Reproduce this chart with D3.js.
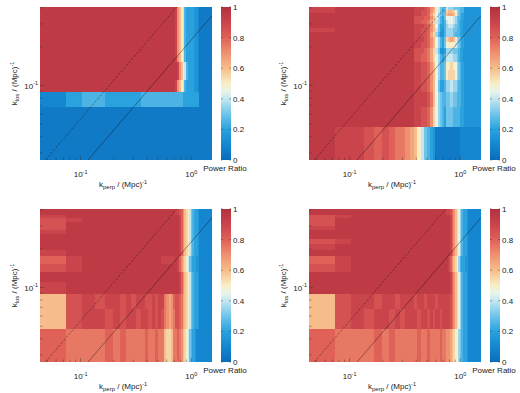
<!DOCTYPE html>
<html>
<head>
<meta charset="utf-8">
<script src="https://cdn.jsdelivr.net/npm/d3@7"></script>
<style>
  body { margin: 0; background: #fff; }
  svg text { font-family: "Liberation Sans", Arial, Helvetica, sans-serif; fill: #1a1a1a; }
</style>
</head>
<body>
<div id="chart"></div>
<script>
// k_perp / k_los bin edges, Mpc^-1
const kPerpEdges = [0.043, 0.0735, 0.104, 0.1345, 0.165, 0.1955, 0.226, 0.2565, 0.287, 0.3175,
  0.348, 0.3785, 0.409, 0.4395, 0.47, 0.5005, 0.531, 0.5615, 0.592, 0.6225,
  0.653, 0.6835, 0.714, 0.7445, 0.775, 0.8055, 0.836, 0.8665, 0.897, 0.9275,
  0.958, 0.9885, 1.019, 1.0495, 1.08, 1.1105, 1.141, 1.1715, 1.202, 1.2325,
  1.263, 1.2935, 1.324, 1.3545, 1.385, 1.4155, 1.446, 1.4765, 1.507, 1.5375];
const kLosEdges = [0.0264, 0.0475, 0.0686, 0.0897, 0.1108, 0.1319, 0.153, 0.1741, 0.1952, 0.2163,
  0.2374, 0.2585, 0.2796, 0.3007, 0.3218, 0.3429, 0.364, 0.3851, 0.4062];

// power ratio per cell: one letter per k_perp bin, a = 0.00, b = 0.05 ... u = 1.00
// rows run from the top k_los bin down to the bottom one (spaces only group by 10)
const levelCodes = "abcdefghijklmnopqrstu";

const ratioTopLeft = [
  "tttttttttt tttttttttt ttsomkifee eeedddcbbb bbbbbbbbb",
  "tttttttttt tttttttttt ttsomkifee eeedddcbbb bbbbbbbbb",
  "tttttttttt tttttttttt ttsomkifee eeedddcbbb bbbbbbbbb",
  "tttttttttt tttttttttt ttsomkifee eeedddcbbb bbbbbbbbb",
  "tttttttttt tttttttttt ttsomkifee eeedddcbbb bbbbbbbbb",
  "tttttttttt tttttttttt ttsomkifee eeedddcbbb bbbbbbbbb",
  "tttttttttt tttttttttt ttsomkifee eeedddcbbb bbbbbbbbb",
  "tttttttttt tttttttttt ttsomkifee eeedddcbbb bbbbbbbbb",
  "tttttttttt tttttttttt ttsomkifee eeedddcbbb bbbbbbbbb",
  "tttttttttt tttttttttt ttsomkifee eeedddcbbb bbbbbbbbb",
  "tttttttttt tttttttttt ttsomkifee eeedddcbbb bbbbbbbbb",
  "tttttttttt tttttttttt ttsomkifee eeedddcbbb bbbbbbbbb",
  "tttttttttt tttttttttt tttsomkife eeedddcbbb bbbbbbbbb",
  "tttttttttt tttttttttt tttsomkife eeedddcbbb bbbbbbbbb",
  "tttttttttt tttttttttt ttsomkifee eeedddcbbb bbbbbbbbb",
  "ceffeeeeee ffffffffff ffffffeeee eeeeeeebbb bbbbbbbbb",
  "bbbbbbbbbb bbbbbbbbbb bbbbbbbbbb bbbbbbbbbb bbbbbbbbb",
  "bbbbbbbbbb bbbbbbbbbb bbbbbbbbbb bbbbbbbbbb bbbbbbbbb"
];

const ratioTopRight = [
  "sttttttttt tsssrqonki gfgihhhggg gfffdddddd ddddddddd",
  "sttttttttt tssrrqomki gfflmmmljh gfffdddddd ddddddddd",
  "tttttttttt tssrrqnljh gfgmnnnmkh gfeedddddd ddddddddd",
  "tttttttttt trrrqqomjh fegjjjjihg ffeedddddd ddddddddd",
  "tttttttttt trrqqpnlih fefijjjihg feeddddddd ddddddddd",
  "tttttttttt tsssrqomjg eefhiiihgg feeddddddd ddddddddd",
  "sttttttttt tssrrqomig edfhhhhggf feeddddddd ddddddddd",
  "tttttttttt tssrrqnlhf ddfhhhhgff feeddddddd ddddddddd",
  "tttttttttt tsssrqomjh feglmnnmkh gfeedddddd ddddddddd",
  "tttttttttt tssrrqomjh fegjkkkjih gfeedddddd ddddddddd",
  "tttttttttt trrrqpnlig ddehhhhggg feeddddddd ddddddddd",
  "tttttttttt trrqqpnljh fefiiiihhg feeddddddd ddddddddd",
  "tttttttttt tssrrqomjh ffgkkllkjh gfeedddddd ddddddddd",
  "tttttttttt tssrrqomjh ffgklllljh gfeedddddd ddddddddd",
  "tttttttttt tssrrqomjg eefhhiihhg ffeedddddd ddddddddd",
  "tttttttttt tssssrpmjh gffgghhggf ffeedddddd ddddddddd",
  "tttttttttt tssrrqoljh gfeggggfff feeedddddd ddddddddd",
  "tssrqrqppo nmkigfedbb bbbbbbbbbb bccccccccc ccccccccc"
];

const ratioBottomLeft = [
  "tttttttttt tttttttttt ttssrqomlk igfeeedccc ccccccccc",
  "tttttttttt tttttttttt ttssrqomlk igfeeedccc ccccccccc",
  "sttttttttt tttttttttt ttttsqomlk igfeeedccc ccccccccc",
  "rstttttttt tttttttttt ttttsqomlk igfeeedccc ccccccccc",
  "rttttttttt tttttttttt ttttsqomlk igfeeedccc ccccccccc",
  "rttttttttt tttttttttt ttttsqomlk igfeeedccc ccccccccc",
  "sttttttttt tttttttttt ttttsqomlk igfeeedccc ccccccccc",
  "tttttttttt tttttttttt ttttsqomlk igfeeedccc ccccccccc",
  "tttttttttt tttttttttt ttttsqomlk igfeeedccc ccccccccc",
  "tttttttttt tttttttttt ttttsqomlk igfeeedccc ccccccccc",
  "sttttttttt tttttttttt ttttsqomlk igfeeedccc ccccccccc",
  "qstttttttt ttttttssss sstsqomlki gfeeeddccc ccccccccc",
  "rstttttttt tttttttttt tttsqomlki gfeeeddccc ccccccccc",
  "tttttttttt tttttttttt ttttsqomlk igfeeedccc ccccccccc",
  "sttttttttt tttttttttt ttttsqomlk igfeeedccc ccccccccc",
  "mrsrssrsrs srrsrsspon oqrrqpnmlk igfeeedccc ccccccccc",
  "mrssrsrssr ssrsrsrpon oprrqpnmlk igfeeedccc ccccccccc",
  "qpppqpqppp pqppqppmll mppqpomlki gfeedccccc ccccccccc"
];

const ratioBottomRight = [
  "tttttttttt tttttttttt tttssrqoml jhfeeedccc ccccccccc",
  "tttttttttt tttttttttt tttssrqoml jhfeeedccc ccccccccc",
  "rstttttttt tttttttttt tttttsqoml jhfeeedccc ccccccccc",
  "rttttttttt tttttttttt tttttsqoml jhfeeedccc ccccccccc",
  "rttttttttt tttttttttt tttttsqoml jhfeeedccc ccccccccc",
  "sttttttttt tttttttttt tttttsqoml jhfeeedccc ccccccccc",
  "tttttttttt tttttttttt tttttsqoml jhfeeedccc ccccccccc",
  "tttttttttt tttttttttt tttttsqoml jhfeeedccc ccccccccc",
  "rstttttttt tttttttttt tttttsqoml jhfeeedccc ccccccccc",
  "sttttttttt tttttttttt tttttsqoml jhfeeedccc ccccccccc",
  "tttttttttt tttttttttt tttttsqoml jhfeeedccc ccccccccc",
  "qstttttttt tttttttttt ttttsqomlj hfeeeddccc ccccccccc",
  "rstttttttt tttttttttt ttttsqomlj hfeeeddccc ccccccccc",
  "tttttttttt tttttttttt tttttsqoml jhfeeedccc ccccccccc",
  "tttttttttt tttttttttt tttttsqoml jhfeeedccc ccccccccc",
  "mrssrssrss srssrsssrs sssssrqoml jhfeeedccc ccccccccc",
  "mrsrssrsrs ssrssrsrss rssssrqoml jhfeeedccc ccccccccc",
  "qpppqpqppp ppqppqpppp qppoonmlkj hgfeeedccc ccccccccc"
];

// k_los = slope * k_perp guide lines
const guideSlopes = [0.55, 0.226];
const guideDashes = ["2.5,1.5", null];

// colour map of the power ratio
const colorStops = [0, 0.1, 0.2, 0.3, 0.4, 0.45, 0.5, 0.6, 0.7, 0.8, 0.9, 1];
const colorHex = ["#0b6cbd", "#1487d0", "#2aa2de", "#6ec4ea", "#c4e7f1", "#e8f4ea",
  "#f8eec6", "#f6bd8a", "#ef9070", "#df6158", "#c9444b", "#b2303f"];

const xMinorTicks = [0.05, 0.06, 0.07, 0.08, 0.09, 0.2, 0.3, 0.4, 0.5, 0.6, 0.7, 0.8, 0.9];
const xMajorTicks = [0.1, 1];
const xMajorExp = ["-1", "0"];
const yMinorTicks = [0.03, 0.04, 0.05, 0.06, 0.07, 0.08, 0.09, 0.2, 0.3, 0.4];
const yMajorTicks = [0.1];
const yMajorExp = ["-1"];
const cbTicks = [0, 0.2, 0.4, 0.6, 0.8, 1];
const cbTickLabels = ["0", "0.2", "0.4", "0.6", "0.8", "1"];

const panels = [
  { col: 0, row: 0, rows: ratioTopLeft },
  { col: 1, row: 0, rows: ratioTopRight },
  { col: 0, row: 1, rows: ratioBottomLeft },
  { col: 1, row: 1, rows: ratioBottomRight }
];

const width = 520, height = 393;
const plotW = 172, plotH = 153;
const originX = 40, originY = 7, stepX = 269, stepY = 202;
const cbX = 181, cbW = 10;

const svg = d3.select('#chart').append('svg')
  .attr('width', width)
  .attr('height', height);

const x = d3.scaleLog().domain(d3.extent(kPerpEdges)).range([0, plotW]);
const y = d3.scaleLog().domain(d3.extent(kLosEdges)).range([plotH, 0]);
const color = d3.scaleLinear().domain(colorStops).range(colorHex).clamp(true);
const cbY = d3.scaleLinear().domain([0, 1]).range([plotH, 0]);

const defs = svg.append('defs');
const grad = defs.append('linearGradient')
  .attr('id', 'cbgrad')
  .attr('x1', 0).attr('x2', 0).attr('y1', 1).attr('y2', 0);
grad.selectAll('stop')
  .data(colorStops)
  .enter()
  .append('stop')
  .attr('offset', d => d)
  .attr('stop-color', d => color(d));
defs.append('clipPath').attr('id', 'plotclip')
  .append('rect').attr('width', plotW).attr('height', plotH);

function decode(rows) {
  const cells = [];
  const nCols = kPerpEdges.length - 1;
  rows.forEach((s, r) => {
    const codes = s.replace(/ /g, '');
    const j = rows.length - 1 - r;
    for (let i = 0; i < nCols; i++) {
      const ch = codes[i] || codes[codes.length - 1];
      cells.push({ i, j, v: levelCodes.indexOf(ch) * 0.05 });
    }
  });
  return cells;
}

function powerLabel(sel, base, exp, size) {
  sel.append('tspan').text(base);
  sel.append('tspan').attr('dy', -3.5).attr('font-size', size * 0.68).text(exp);
}

panels.forEach(p => {
  const g = svg.append('g')
    .attr('transform', `translate(${originX + p.col * stepX},${originY + p.row * stepY})`);

  g.append('g').selectAll('rect')
    .data(decode(p.rows))
    .enter()
    .append('rect')
    .attr('x', d => x(kPerpEdges[d.i]))
    .attr('y', d => y(kLosEdges[d.j + 1]))
    .attr('width', d => x(kPerpEdges[d.i + 1]) - x(kPerpEdges[d.i]))
    .attr('height', d => y(kLosEdges[d.j]) - y(kLosEdges[d.j + 1]))
    .attr('fill', d => color(d.v))
    .attr('shape-rendering', 'crispEdges');

  // guide lines
  const kpMax = kPerpEdges[kPerpEdges.length - 1];
  const klMin = kLosEdges[0], klMax = kLosEdges[kLosEdges.length - 1];
  const lineG = g.append('g').attr('clip-path', 'url(#plotclip)');
  guideSlopes.forEach((s, n) => {
    const k0 = klMin / s;
    const k1 = Math.min(kpMax, klMax / s);
    lineG.append('line')
      .attr('x1', x(k0)).attr('y1', y(s * k0))
      .attr('x2', x(k1)).attr('y2', y(s * k1))
      .attr('stroke', '#1a1010')
      .attr('stroke-opacity', 0.6)
      .attr('stroke-width', 0.7)
      .attr('stroke-dasharray', guideDashes[n]);
  });

  // ticks (inward)
  const tickG = g.append('g').attr('stroke', '#333').attr('stroke-width', 0.6).attr('stroke-opacity', 0.7);
  xMinorTicks.forEach(v => tickG.append('line')
    .attr('x1', x(v)).attr('x2', x(v)).attr('y1', plotH).attr('y2', plotH - 2.5));
  xMajorTicks.forEach(v => tickG.append('line')
    .attr('x1', x(v)).attr('x2', x(v)).attr('y1', plotH).attr('y2', plotH - 4));
  yMinorTicks.forEach(v => tickG.append('line')
    .attr('x1', 0).attr('x2', 2.5).attr('y1', y(v)).attr('y2', y(v)));
  yMajorTicks.forEach(v => tickG.append('line')
    .attr('x1', 0).attr('x2', 4).attr('y1', y(v)).attr('y2', y(v)));

  xMajorTicks.forEach((v, n) => {
    const t = g.append('text')
      .attr('x', x(v)).attr('y', plotH + 17)
      .attr('text-anchor', 'middle').attr('font-size', 8);
    powerLabel(t, '10', xMajorExp[n], 8);
  });
  yMajorTicks.forEach((v, n) => {
    const t = g.append('text')
      .attr('x', -2).attr('y', y(v) + 3.5)
      .attr('text-anchor', 'end').attr('font-size', 8);
    powerLabel(t, '10', yMajorExp[n], 8);
  });

  // axis titles
  const xt = g.append('text')
    .attr('x', 83).attr('y', plotH + 27)
    .attr('text-anchor', 'middle').attr('font-size', 8);
  xt.append('tspan').text('k');
  xt.append('tspan').attr('dy', 2).attr('font-size', 6).text('perp');
  xt.append('tspan').attr('dy', -2).text(' / (Mpc)');
  xt.append('tspan').attr('dy', -3.5).attr('font-size', 5.5).text('-1');

  const yt = g.append('text')
    .attr('transform', `translate(-23,${plotH / 2}) rotate(-90)`)
    .attr('text-anchor', 'middle').attr('font-size', 8);
  yt.append('tspan').text('k');
  yt.append('tspan').attr('dy', 2).attr('font-size', 6).text('los');
  yt.append('tspan').attr('dy', -2).text(' / (Mpc)');
  yt.append('tspan').attr('dy', -3.5).attr('font-size', 5.5).text('-1');

  // colorbar
  const cb = g.append('g').attr('transform', `translate(${cbX},0)`);
  cb.append('rect')
    .attr('width', cbW).attr('height', plotH)
    .attr('fill', 'url(#cbgrad)');
  cbTicks.forEach((v, n) => {
    cb.append('line')
      .attr('x1', cbW - 2).attr('x2', cbW).attr('y1', cbY(v)).attr('y2', cbY(v))
      .attr('stroke', '#333').attr('stroke-width', 0.6).attr('stroke-opacity', 0.7);
    cb.append('line')
      .attr('x1', 0).attr('x2', 2).attr('y1', cbY(v)).attr('y2', cbY(v))
      .attr('stroke', '#333').attr('stroke-width', 0.6).attr('stroke-opacity', 0.7);
    cb.append('text')
      .attr('x', cbW + 2).attr('y', cbY(v) + 3)
      .attr('font-size', 8)
      .text(cbTickLabels[n]);
  });
  cb.append('text')
    .attr('x', cbW / 2 - 1).attr('y', plotH + 11)
    .attr('text-anchor', 'middle').attr('font-size', 8)
    .text('Power Ratio');
});
</script>
</body>
</html>
